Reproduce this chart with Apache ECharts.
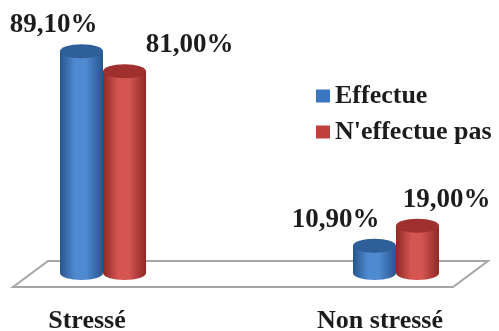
<!DOCTYPE html>
<html>
<head>
<meta charset="utf-8">
<script src="https://cdn.jsdelivr.net/npm/echarts@6/dist/echarts.min.js"></script>
<style>
  html, body { margin: 0; padding: 0; background: #fff; }
  #chart { width: 499px; height: 331px; }
</style>
</head>
<body>
<div id="chart"></div>
<script>
// Chart data
const categories = ['Stressé', 'Non stressé'];
const effectue = [89.10, 10.90];
const neffectue = [81.00, 19.00];
const seriesNames = ['Effectue', "N'effectue pas"];

const FONT = '"Liberation Serif", "Times New Roman", serif';
const TEXT_COLOR = '#1e1b1c';

// Cylinder appearance per series
const looks = [
  { dx: -5.5, flat: '#3b77c0', edge: '#27558f', mid: '#4f8ad0', top: '#2e5f99', labelDx: [-28, -39] },
  { dx: 37.5, flat: '#c0403c', edge: '#8f2825', mid: '#d45552', top: '#a0302d', labelDx: [65, 29] }
];
const BAR_W = 43;
const RY = 7;

function fmt(v) {
  return v.toFixed(2).replace('.', ',') + '%';
}

function cylinder(look) {
  return function (params, api) {
    const idx = api.value(0);
    const val = api.value(1);
    const top = api.coord([idx, val]);
    const base = api.coord([idx, 0]);
    const cx = top[0] + look.dx;
    const half = BAR_W / 2;
    const grad = new echarts.graphic.LinearGradient(0, 0, 1, 0, [
      { offset: 0, color: look.edge },
      { offset: 0.35, color: look.mid },
      { offset: 0.6, color: look.mid },
      { offset: 1, color: look.edge }
    ]);
    return {
      type: 'group',
      children: [
        { type: 'ellipse', shape: { cx: cx, cy: base[1], rx: half, ry: RY }, style: { fill: grad } },
        { type: 'rect', shape: { x: cx - half, y: top[1], width: BAR_W, height: base[1] - top[1] }, style: { fill: grad } },
        { type: 'ellipse', shape: { cx: cx, cy: top[1], rx: half, ry: RY }, style: { fill: look.top } },
        {
          type: 'text',
          x: cx + look.labelDx[idx],
          y: top[1] - 26,
          style: {
            text: fmt(val),
            font: 'bold 27px ' + FONT,
            fill: TEXT_COLOR,
            align: 'center',
            verticalAlign: 'middle'
          }
        }
      ]
    };
  };
}

// Floor plane under the cylinders, laid out from the grid's coordinate system
function floor(params, api) {
  const cs = params.coordSys;
  const base = api.coord([0, 0])[1];
  const l = cs.x, r = cs.x + cs.width;
  return {
    type: 'polygon',
    shape: {
      points: [
        [l - 74, base + 14],
        [r + 73, base + 14],
        [r + 108, base - 12],
        [l - 39, base - 12]
      ]
    },
    style: { fill: '#ffffff', stroke: '#a6a6a6', lineWidth: 2 }
  };
}

const chart = echarts.init(document.getElementById('chart'), null, { renderer: 'canvas' });
chart.setOption({
  animation: false,
  backgroundColor: '#ffffff',
  grid: { left: 87, right: 119, top: 24, bottom: 58, containLabel: false, outerBoundsMode: 'none' },
  legend: {
    orient: 'vertical',
    left: 316,
    top: 83,
    padding: 0,
    itemWidth: 14,
    itemHeight: 13,
    itemGap: 10,
    icon: 'rect',
    data: seriesNames,
    textStyle: { fontFamily: FONT, fontWeight: 'bold', fontSize: 26, color: TEXT_COLOR, padding: [0, 0, 0, 0] }
  },
  xAxis: {
    type: 'category',
    data: categories,
    boundaryGap: false,
    axisLine: { show: false },
    axisTick: { show: false },
    splitLine: { show: false },
    axisLabel: { margin: 35, fontFamily: FONT, fontWeight: 'bold', fontSize: 26, color: TEXT_COLOR }
  },
  yAxis: {
    type: 'value',
    min: 0,
    max: 100,
    show: false,
    splitLine: { show: false }
  },
  series: [
    {
      type: 'custom',
      name: 'floor',
      silent: true,
      z: 1,
      clip: false,
      renderItem: floor,
      data: [[0, 0]]
    },
    {
      type: 'custom',
      name: seriesNames[0],
      z: 2,
      clip: false,
      itemStyle: { color: looks[0].flat },
      renderItem: cylinder(looks[0]),
      data: effectue.map((v, i) => [i, v])
    },
    {
      type: 'custom',
      name: seriesNames[1],
      z: 3,
      clip: false,
      itemStyle: { color: looks[1].flat },
      renderItem: cylinder(looks[1]),
      data: neffectue.map((v, i) => [i, v])
    }
  ]
});
</script>
</body>
</html>
